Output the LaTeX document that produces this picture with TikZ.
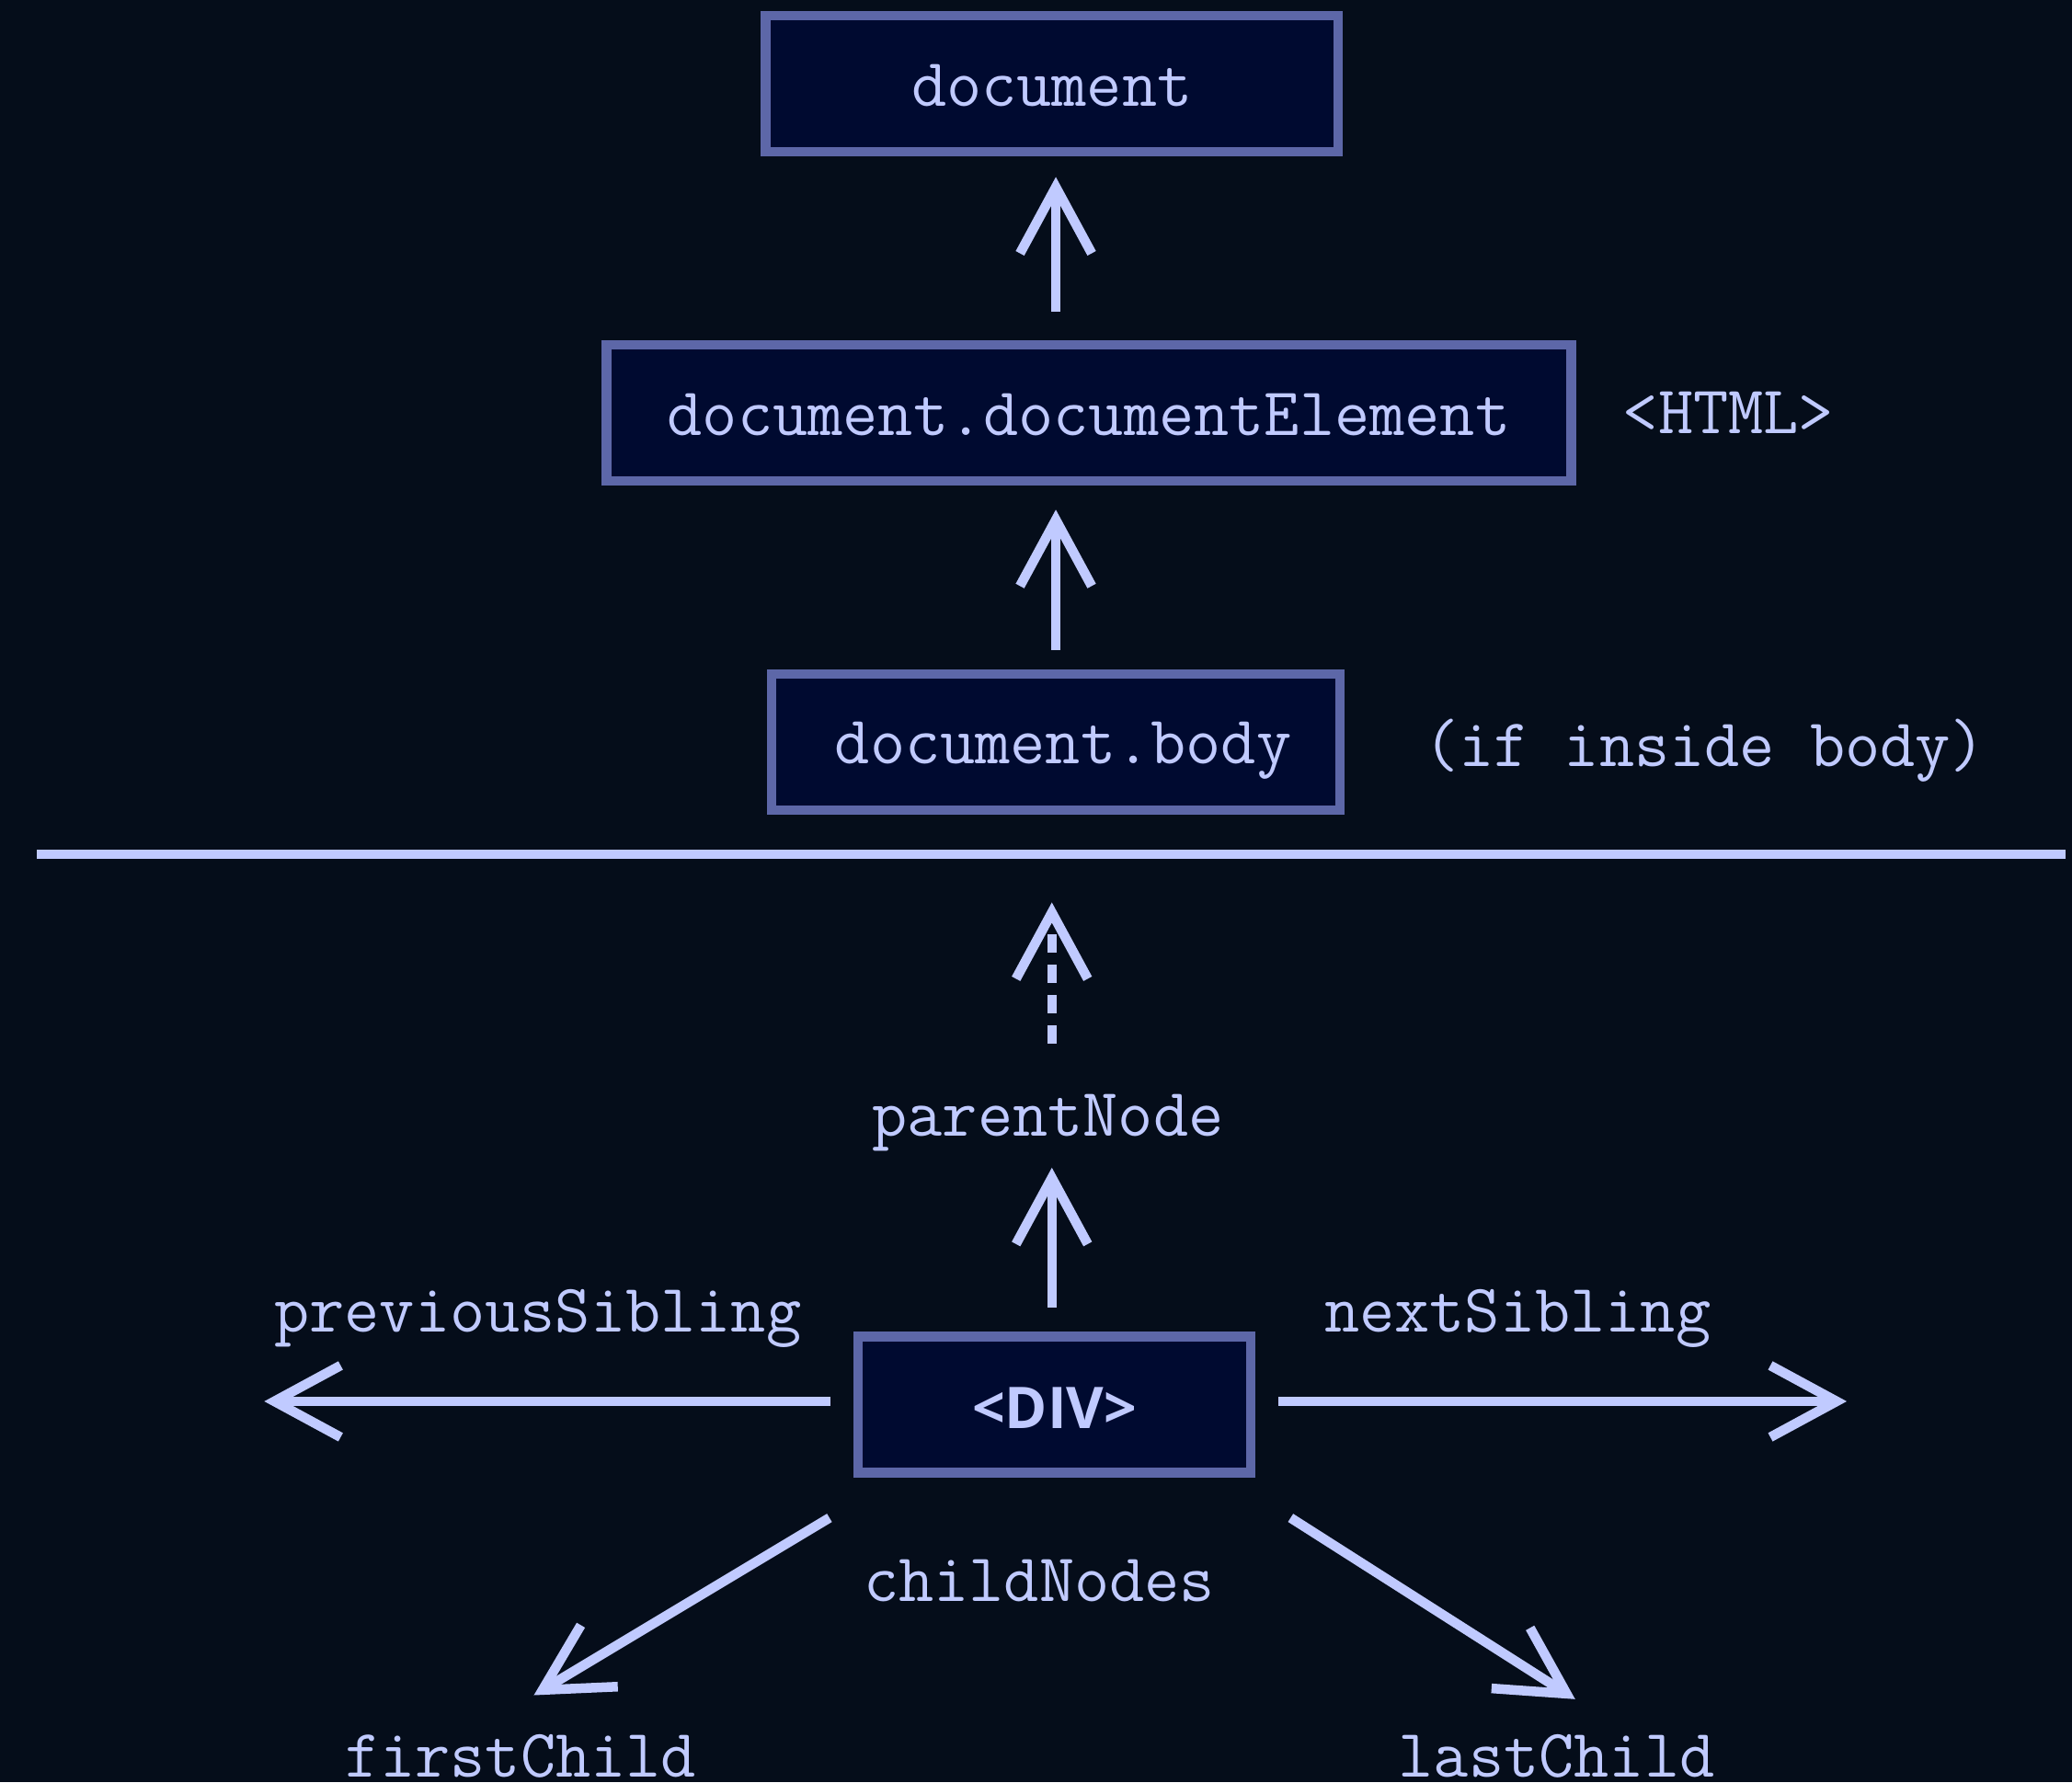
\documentclass[tikz,border=0pt]{standalone}
\usepackage{fontspec}
\newfontfamily\divfont{Open Sans}
\usepackage{xcolor}
\usetikzlibrary{arrows.meta}

\definecolor{bg}{HTML}{050D1A}
\definecolor{boxfill}{HTML}{000A30}
\definecolor{boxline}{HTML}{5D67A8}
\definecolor{ink}{HTML}{C0CAFF}
\newcommand{\mono}{\fontsize{21.1pt}{24pt}\selectfont\ttfamily}

\tikzset{
  box/.style={draw=boxline,fill=boxfill,line width=1.05mm,minimum height=14.8mm,
    inner sep=0pt,text=ink,font=\mono,text height=5.4mm,text depth=0.6mm},
  lbl/.style={text=ink,font=\mono,inner sep=0pt,anchor=base},
  arr/.style={draw=ink,line width=1.05mm,-{Straight Barb[length=7.2mm,width=7.8mm]}},
}

\begin{document}
\begin{tikzpicture}[x=0.1437mm,y=-0.1437mm]
\path[fill=bg,use as bounding box] (0,0) rectangle (1568,1349);

\node[box,minimum width=62.3mm] (doc) at (796,63.5) {document};
\node[box,minimum width=104.9mm] (de) at (824,312.5) {document.documentElement};
\node[lbl] (html) at (1308,328) {<HTML>};
\node[box,minimum width=61.8mm] (body) at (799,561.5) {\hspace{1.6mm}document.body};
\node[lbl] (ifin) at (1290,580) {(if inside body)};
\draw[arr,shorten <=3.1mm,shorten >=2.2mm] (de.north -| body.north) -- (doc.south -| body.north);
\draw[arr,shorten <=2.1mm,shorten >=2.6mm] (body.north) -- (de.south -| body.north);

\draw[draw=ink,line width=1.05mm] (28,646.5) -- (1563,646.5);

\coordinate (up) at (796,683);
\node[lbl] (pn) at (793,860) {parentNode};
\draw[arr,dash pattern=on 2mm off 1.3mm,shorten <=5.5mm] (pn.north -| up) -- (up);

\node[box,minimum width=42.7mm,font=\divfont\bfseries\fontsize{17.8pt}{20pt}\selectfont,text height=5.8mm] (div) at (798,1063) {<DIV>};
\draw[arr,shorten <=2.6mm,shorten >=1.7mm] (div.north -| up) -- (pn.south -| up);

\coordinate (ps) at (200,1060.6);
\coordinate (ns) at (1397.5,1060.6);
\node[lbl] (psl) at (407,1008) {previousSibling};
\node[lbl] (nsl) at (1148.5,1008) {nextSibling};
\draw[arr,shorten <=2.5mm] (div.west |- ps) -- (ps);
\draw[arr,shorten <=2.5mm] (div.east |- ns) -- (ns);

\coordinate (fc) at (404,1283);
\coordinate (lc) at (1192,1286);
\node[lbl] (cn) at (786.5,1212) {childNodes};
\node[lbl] (fcl) at (394,1345) {firstChild};
\node[lbl] (lcl) at (1178,1345) {lastChild};
\draw[arr] ([xshift=-2.6mm,yshift=-4.4mm]div.south west) -- (fc);
\draw[arr] ([xshift=3.8mm,yshift=-4.4mm]div.south east) -- (lc);
\end{tikzpicture}
\end{document}
